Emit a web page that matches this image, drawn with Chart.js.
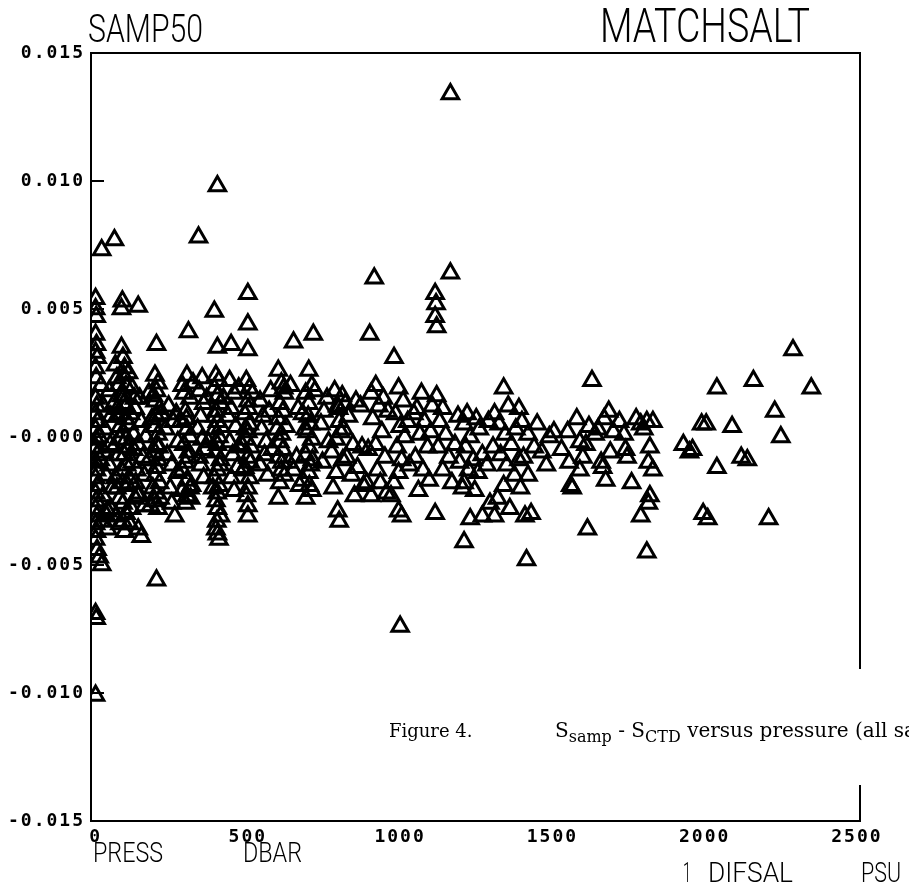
<!DOCTYPE html>
<html>
<head>
<meta charset="utf-8">
<script src="https://cdn.jsdelivr.net/npm/chart.js@4/dist/chart.umd.min.js"></script>
<style>
  html, body { margin: 0; padding: 0; background: #fff; }
  canvas { display: block; }
</style>
</head>
<body>
<canvas id="plot" width="909" height="884"></canvas>
<script>
// samples: [pressure (dbar), S_samp - S_CTD (psu)], grouped by depth band
var shallow = [
  [0,0.0054],[0,0.0050],[2,0.0047],[0,0.0040],[3,0.0036],[0,0.0033],[5,0.0031],[0,0.0027],[2,0.0023],[0,0.0015],
  [4,0.0012],[0,0.0009],[6,0.0006],[0,0.0003],[2,-0.0001],[0,-0.0004],[5,-0.0007],[0,-0.0010],[3,-0.0013],[0,-0.0016],
  [6,-0.0019],[0,-0.0022],[2,-0.0025],[0,-0.0028],[4,-0.0031],[0,-0.0034],[3,-0.0037],[0,-0.0040],[5,-0.0044],[12,-0.0047],
  [20,-0.0050],[0,-0.0069],[2,-0.0071],[0,-0.0101],[20,0.0073],[62,0.0077],
  [25,0.0012],[30,0.0003],[28,-0.0006],[35,-0.0015],[25,-0.0023],[32,-0.0030],[40,-0.0036],[45,0.0018],[50,0.0008],[48,-0.0003],
  [45,-0.0011],[55,-0.0020],[50,-0.0028],[18,0.0020],[15,-0.0009],[12,0.0000],[20,-0.0033],[60,0.0013],[65,-0.0016],[70,0.0023],[75,-0.0007],
  [88,0.0053],[85,0.0050],[140,0.0051],[85,0.0035],[90,0.0031],[95,0.0027],[92,0.0024],[75,0.0020],[85,0.0016],[100,0.0012],
  [70,0.0008],[110,0.0005],[90,0.0002],[80,-0.0001],[105,-0.0004],[95,-0.0007],[120,-0.0010],[85,-0.0013],[110,-0.0016],[70,-0.0020],
  [130,-0.0024],[100,-0.0030],[80,-0.0034],[95,-0.0037],[150,-0.0039],[160,-0.0027],[140,-0.0022],[120,0.0019],[145,0.0015],[130,0.0011],
  [150,0.0006],[125,0.0001],[140,-0.0003],[155,-0.0008],[40,-0.0029],[90,-0.0033],[140,-0.0036],[90,-0.0026],[140,-0.0023],[100,0.0020],
  [115,0.0009],[105,-0.0019],[118,-0.0028],[95,0.0016],[135,-0.0013],[80,0.0004],
  [65,0.0028],[72,0.0011],[78,-0.0024],[82,0.0009],[88,-0.0018],[98,0.0007],[102,-0.0011],[108,0.0025],[112,-0.0034],[125,-0.0005],
  [128,0.0015],[132,-0.0018],[60,-0.0004],[68,-0.0031],[100,-0.0001],[92,0.0013]
];
var upper = [
  [200,0.0036],[195,0.0024],[205,0.0021],[200,0.0018],[195,0.0014],[210,0.0011],[200,0.0008],[195,0.0004],[205,0.0001],[200,-0.0003],
  [195,-0.0006],[205,-0.0009],[200,-0.0012],[195,-0.0015],[210,-0.0018],[200,-0.0022],[195,-0.0025],[205,-0.0028],[200,-0.0056],[175,0.0017],
  [175,-0.0009],[180,-0.0027],[165,0.0000],[160,-0.0015],[185,0.0007],[190,0.0016],[208,-0.0004],[215,0.0009],[188,-0.0020],[212,-0.0024],
  [240,0.0012],[235,-0.0007],[250,-0.0011],[245,-0.0020],[255,0.0006],[260,-0.0031],[230,0.0003],[250,-0.0026],[265,0.0009],[270,-0.0002],[270,-0.0014],
  [305,0.0041],[300,0.0024],[285,0.0020],[310,0.0015],[295,0.0010],[280,0.0006],[300,0.0003],[310,0.0000],[290,-0.0003],[305,-0.0006],
  [295,-0.0010],[285,-0.0013],[300,-0.0017],[310,-0.0020],[300,-0.0023],[295,-0.0026],[320,0.0021],[315,-0.0019],
  [290,0.0017],[305,-0.0008],[298,0.0007],[312,-0.0024],[285,-0.0021],
  [338,0.0078],[350,0.0023],[340,0.0018],[355,0.0013],[345,0.0008],[335,0.0003],[350,-0.0001],[360,-0.0005],[345,-0.0011],[355,-0.0016],
  [365,0.0015],[340,-0.0008],[370,-0.0002],
  [400,0.0098],[390,0.0049],[400,0.0035],[395,0.0024],[405,0.0022],[390,0.0019],[400,0.0016],[410,0.0013],[395,0.0010],[400,0.0006],
  [390,0.0003],[405,0.0000],[400,-0.0003],[395,-0.0006],[410,-0.0009],[400,-0.0013],[390,-0.0016],[405,-0.0019],[400,-0.0022],[395,-0.0025],
  [400,-0.0028],[410,-0.0031],[400,-0.0038],[405,-0.0040],[395,-0.0036],[420,0.0015],[385,-0.0020],
  [392,0.0008],[408,-0.0011],[398,-0.0033],[412,0.0004],
  [445,0.0036],[440,0.0022],[455,0.0017],[445,0.0011],[460,0.0004],[440,-0.0002],[450,-0.0007],[465,-0.0012],[445,-0.0016],[455,-0.0021],
  [470,0.0019],[470,-0.0004],[435,0.0008],[485,-0.0013],
  [500,0.0056],[500,0.0044],[500,0.0034],[495,0.0022],[505,0.0019],[500,0.0014],[490,0.0009],[505,0.0005],[500,0.0002],[495,-0.0001],
  [510,-0.0004],[500,-0.0008],[490,-0.0012],[505,-0.0016],[500,-0.0020],[500,-0.0031],[515,0.0017],[480,-0.0003],[500,-0.0027],
  [492,0.0003],[508,-0.0010],[502,0.0011],[495,-0.0023]
];
var middle = [
  [540,0.0014],[550,0.0008],[545,0.0003],[560,-0.0002],[555,-0.0007],[540,-0.0011],[565,-0.0015],[575,0.0018],[580,-0.0005],[570,0.0010],
  [600,0.0026],[610,0.0021],[620,0.0017],[605,0.0013],[615,0.0010],[600,0.0007],[625,0.0004],[610,0.0001],[605,-0.0002],[615,-0.0005],
  [600,-0.0008],[610,-0.0013],[620,-0.0015],[605,-0.0018],[600,-0.0024],[650,0.0037],[640,0.0020],[635,-0.0010],
  [595,0.0003],[612,-0.0010],[618,0.0019],
  [715,0.0040],[700,0.0026],[710,0.0020],[690,0.0017],[700,0.0013],[680,0.0009],[705,0.0005],[695,0.0002],[710,-0.0001],[700,-0.0004],
  [690,-0.0007],[705,-0.0011],[700,-0.0014],[680,-0.0017],[710,-0.0021],[690,-0.0024],[720,0.0018],[660,-0.0008],[670,-0.0019],[665,0.0011],[650,-0.0013],
  [698,0.0008],[712,-0.0009],[688,0.0003],[702,-0.0019],
  [760,0.0015],[750,0.0010],[740,0.0005],[765,-0.0002],[775,-0.0006],[745,-0.0010],[790,-0.0014],[785,0.0018],[795,0.0012],[800,-0.0033],
  [780,-0.0020],[800,0.0006],[790,-0.0001],[795,-0.0029],[805,0.0002],[812,-0.0009],[798,0.0011],
  [820,0.0013],[830,0.0008],[815,0.0003],[845,-0.0003],[825,-0.0008],[860,-0.0012],[840,-0.0015],[855,0.0014],[870,0.0012],[875,-0.0004],
  [880,-0.0019],[810,0.0016],[850,-0.0023],
  [915,0.0062],[900,0.0040],[920,0.0020],[905,0.0017],[930,0.0012],[910,0.0007],[940,0.0002],[920,-0.0003],[950,-0.0008],[925,-0.0013],
  [935,-0.0018],[905,-0.0023],[955,-0.0022],[960,0.0010],[895,-0.0005],[945,0.0015],[890,-0.0018],
  [980,0.0031],[995,0.0019],[1010,0.0014],[985,0.0009],[1000,0.0004],[1015,0.0000],[990,-0.0004],[1005,-0.0009],[995,-0.0014],[980,-0.0018],
  [995,-0.0029],[1005,-0.0031],[1000,-0.0074],[1025,0.0006],[1030,-0.0011],[970,-0.0023]
];
var deep = [
  [1070,0.0017],[1055,0.0011],[1080,0.0006],[1065,0.0001],[1090,-0.0004],[1050,-0.0008],[1075,-0.0013],[1060,-0.0021],[1100,0.0002],[1095,-0.0017],[1045,0.0009],
  [1115,0.0056],[1118,0.0052],[1115,0.0047],[1120,0.0043],[1165,0.0064],[1165,0.0134],[1120,0.0016],[1140,0.0011],[1130,0.0006],[1150,0.0001],
  [1125,-0.0004],[1160,-0.0008],[1140,-0.0013],[1170,-0.0018],[1115,-0.0030],[1180,-0.0003],[1190,0.0008],[1195,-0.0010],[1105,0.0012],
  [1220,0.0009],[1210,0.0005],[1230,0.0000],[1215,-0.0004],[1240,-0.0009],[1225,-0.0013],[1210,-0.0018],[1205,-0.0020],[1210,-0.0041],[1230,-0.0032],
  [1260,0.0003],[1270,-0.0007],[1255,-0.0014],[1270,-0.0031],[1290,0.0006],[1285,-0.0011],[1295,-0.0026],[1245,-0.0021],[1250,0.0007],
  [1340,0.0019],[1355,0.0012],[1310,0.0009],[1325,0.0005],[1345,0.0001],[1365,-0.0003],[1330,-0.0007],[1350,-0.0011],[1375,-0.0015],[1340,-0.0019],
  [1320,-0.0024],[1360,-0.0028],[1310,-0.0031],[1390,0.0011],[1390,-0.0009],[1395,-0.0020],[1305,-0.0004],[1380,0.0003],
  [1415,-0.0048],[1410,-0.0031],[1430,-0.0030],[1420,0.0001],[1440,-0.0004],[1405,-0.0008],[1450,0.0005],[1465,-0.0006],[1480,-0.0011],[1400,0.0006],
  [1420,-0.0015],[1490,0.0000],
  [1550,0.0002],[1530,-0.0005],[1555,-0.0010],[1560,-0.0019],[1565,-0.0020],[1580,0.0007],[1590,-0.0002],[1600,-0.0008],[1505,0.0002],[1590,-0.0013],
  [1630,0.0022],[1615,-0.0036],[1620,0.0004],[1610,-0.0003],[1640,0.0001],[1660,-0.0010],[1665,-0.0012],[1670,0.0007],[1685,0.0010],[1690,-0.0006],
  [1675,-0.0017],[1650,0.0003],
  [1720,0.0006],[1735,0.0001],[1740,-0.0005],[1760,-0.0018],[1775,0.0007],[1790,0.0005],[1810,0.0006],[1830,0.0006],[1790,-0.0031],[1815,-0.0026],
  [1820,-0.0023],[1810,-0.0045],[1815,-0.0010],[1820,-0.0004],[1800,0.0003],[1830,-0.0013],[1700,0.0002],[1745,-0.0008],
  [1930,-0.0003],[1950,-0.0006],[1960,-0.0005],[1990,0.0005],[1995,-0.0030],[2010,-0.0032],[2005,0.0005],
  [2040,0.0019],[2040,-0.0012],[2090,0.0004],[2120,-0.0008],[2140,-0.0009],[2160,0.0022],[2210,-0.0032],[2230,0.0010],[2250,0.0000],
  [2290,0.0034],[2350,0.0019]
];
var xTicks = [0, 500, 1000, 1500, 2000, 2500];
var yTicks = [-0.015, -0.010, -0.005, 0, 0.005, 0.010, 0.015];

var points = shallow.concat(upper, middle, deep).map(p => ({x: p[0], y: p[1]}));

// squeeze a plotter-style label into a given width
function fitText(ctx, txt, x, base, w, font) {
  ctx.font = font;
  var m = ctx.measureText(txt).width;
  ctx.save();
  ctx.translate(x, base);
  ctx.scale(w / m, 1);
  ctx.fillText(txt, 0, 0);
  ctx.restore();
}

var decor = {
  id: 'decor',
  beforeDraw(chart) {
    // plotter digits are spaced out a bit
    chart.ctx.letterSpacing = '2px';
  },
  afterDraw(chart) {
    var ctx = chart.ctx, a = chart.chartArea, ys = chart.scales.y;
    ctx.save();
    ctx.letterSpacing = '0px';
    ctx.strokeStyle = '#000';
    ctx.lineWidth = 2;
    // frame, right side broken where the caption was pasted in
    ctx.beginPath();
    ctx.moveTo(a.right, 669);
    ctx.lineTo(a.right, a.top);
    ctx.lineTo(a.left, a.top);
    ctx.lineTo(a.left, a.bottom);
    ctx.lineTo(a.right, a.bottom);
    ctx.lineTo(a.right, 785);
    ctx.stroke();
    // inward ticks on the y axis
    ctx.beginPath();
    yTicks.forEach(v => {
      var py = ys.getPixelForValue(v);
      ctx.moveTo(a.left, py);
      ctx.lineTo(a.left + 13, py);
    });
    ctx.stroke();

    ctx.fillStyle = '#000';
    ctx.textAlign = 'left';
    ctx.textBaseline = 'alphabetic';
    fitText(ctx, 'SAMP50', 88, 42, 115, '300 38px Roboto');
    fitText(ctx, 'MATCHSALT', 600, 42, 210, '300 49px Roboto');
    fitText(ctx, 'PRESS', 93, 862, 70, '300 27px Roboto');
    fitText(ctx, 'DBAR', 243, 862, 59, '300 27px Roboto');
    fitText(ctx, '1', 683, 882, 8, '300 27px Roboto');
    fitText(ctx, 'DIFSAL', 708, 882, 85, '300 27px Roboto');
    fitText(ctx, 'PSU', 861, 882, 40, '300 27px Roboto');

    // figure caption
    var big = '20px "DejaVu Serif"', small = '16px "DejaVu Serif"';
    ctx.font = '18px "DejaVu Serif"';
    ctx.fillText('Figure 4.', 389, 737);
    var cx = 555;
    var parts = [['S', big, 0], ['samp', small, 5], [' - S', big, 0], ['CTD', small, 5], [' versus pressure (all samples)', big, 0]];
    parts.forEach(p => {
      ctx.font = p[1];
      ctx.fillText(p[0], cx, 737 + p[2]);
      cx += ctx.measureText(p[0]).width;
    });
    ctx.restore();
  }
};

var tickFont = {family: '"DejaVu Sans Mono"', size: 18, weight: 'bold'};

new Chart(document.getElementById('plot'), {
  type: 'scatter',
  data: {
    datasets: [{
      label: 'DIFSAL',
      data: points,
      pointStyle: 'triangle',
      radius: 9.5,
      borderWidth: 3,
      borderColor: '#000',
      backgroundColor: 'rgba(0,0,0,0)'
    }]
  },
  options: {
    responsive: false,
    animation: false,
    layout: {padding: {top: 53, right: 49, bottom: 0, left: 0}},
    plugins: {legend: {display: false}, tooltip: {enabled: false}},
    scales: {
      x: {
        type: 'linear',
        min: -15,
        max: 2510,
        afterBuildTicks: s => { s.ticks = xTicks.map(v => ({value: v})); },
        afterFit: s => { s.height = 63; },
        grid: {display: false, drawTicks: false},
        border: {display: false},
        ticks: {color: '#000', font: tickFont, padding: 6, maxRotation: 0, autoSkip: false,
                callback: v => String(v)}
      },
      y: {
        type: 'linear',
        min: -0.015,
        max: 0.015,
        afterBuildTicks: s => { s.ticks = yTicks.map(v => ({value: v})); },
        afterFit: s => { s.width = 91; },
        grid: {display: false, drawTicks: false},
        border: {display: false},
        ticks: {color: '#000', font: tickFont, padding: 6, autoSkip: false,
                callback: v => (v <= 0 ? '-' : '') + Math.abs(v).toFixed(3)}
      }
    }
  },
  plugins: [decor]
});
</script>
</body>
</html>
